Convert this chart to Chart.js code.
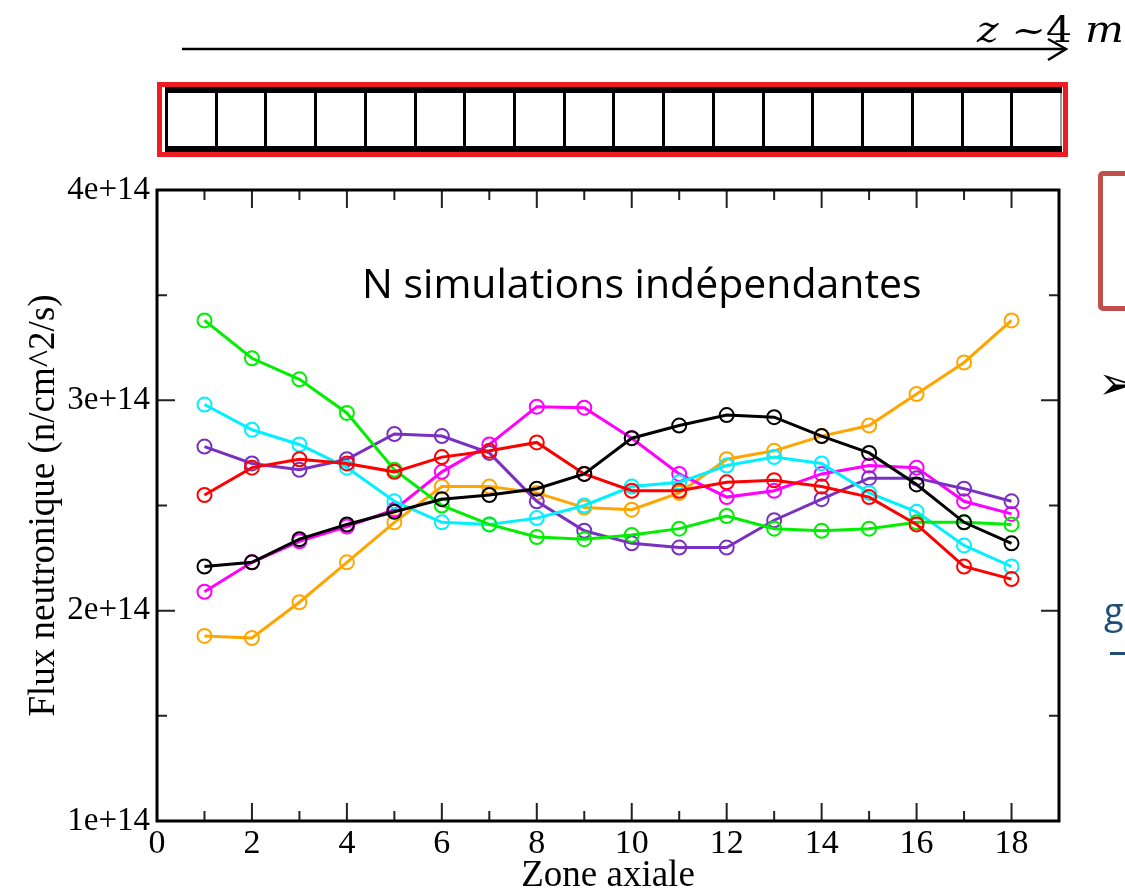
<!DOCTYPE html>
<html>
<head>
<meta charset="utf-8">
<script src="https://cdn.jsdelivr.net/npm/chart.js@4.4.1/dist/chart.umd.min.js"></script>
<style>
  body { margin: 0; width: 1125px; height: 890px; overflow: hidden; background: #fff; position: relative; }
  #c { position: absolute; left: 0; top: 0; }
  .abs { position: absolute; }
  #zlab { left: 977px; top: 10px; font: 35px 'DejaVu Serif'; white-space: nowrap; transform-origin: left top; transform: scaleX(1.17); }
  #zlab i { font-style: italic; }
  #bar { left: 157px; top: 82px; width: 901px; height: 65px; border: 5px solid #ec1c24; background: #fff; }
  #cells { position: absolute; left: 3px; top: 0; right: 1px; bottom: 0; display: flex;
           border-top: 6px solid #000; border-bottom: 6px solid #000; border-left: 3px solid #000; }
  #cells div { flex: 1; border-right: 3px solid #000; }
  #cells div:last-child { border-right: 2px solid #999; }
  #note { left: 362px; top: 254px; font: 41px 'Open Sans'; color: #000; white-space: nowrap; transform-origin: left top; }
  #sidebox { left: 1098px; top: 171px; width: 60px; height: 130px; border: 5px solid #c0504d; border-radius: 5px; }
  #bullet { left: 1098px; top: 356px; font: 46px 'DejaVu Sans'; color: #000; }
  #gtxt { left: 1104px; top: 586px; font: 36px 'Open Sans'; color: #1f4e79; }
  #dash { left: 1110px; top: 652px; width: 15px; height: 3px; background: #1f4e79; }
</style>
</head>
<body>
<canvas id="c" width="1125" height="900"></canvas>
<svg class="abs" style="left:0;top:0" width="1125" height="80">
  <line x1="182" y1="49" x2="1065" y2="49" stroke="#000" stroke-width="2.5"/>
  <polyline points="1048,39 1066,49 1048,60" fill="none" stroke="#000" stroke-width="2.5"/>
</svg>
<div id="zlab" class="abs"><i>z</i> ~4 <i>m</i></div>
<div id="bar" class="abs"><div id="cells"></div></div>
<div id="note" class="abs">N simulations indépendantes</div>
<div id="sidebox" class="abs"></div>
<div id="bullet" class="abs">➢</div>
<div id="gtxt" class="abs">g</div>
<div id="dash" class="abs"></div>
<script>
// zones axiales et flux (en unités de 1e14 n/cm^2/s)
const zones = [1, 2, 3, 4, 5, 6, 7, 8, 9, 10, 11, 12, 13, 14, 15, 16, 17, 18];
const simBlack   = [2.21, 2.23, 2.34, 2.41, 2.47, 2.53, 2.55, 2.58, 2.65, 2.82, 2.88, 2.93, 2.92, 2.83, 2.75, 2.60, 2.42, 2.32];
const simRed     = [2.55, 2.68, 2.72, 2.70, 2.66, 2.73, 2.76, 2.80, 2.65, 2.57, 2.57, 2.61, 2.62, 2.59, 2.54, 2.41, 2.21, 2.15];
const simGreen   = [3.38, 3.20, 3.10, 2.94, 2.67, 2.50, 2.41, 2.35, 2.34, 2.36, 2.39, 2.45, 2.39, 2.38, 2.39, 2.42, 2.42, 2.41];
const simCyan    = [2.98, 2.86, 2.79, 2.68, 2.52, 2.42, 2.41, 2.44, 2.50, 2.59, 2.61, 2.69, 2.73, 2.70, 2.56, 2.47, 2.31, 2.21];
const simPurple  = [2.78, 2.70, 2.67, 2.72, 2.84, 2.83, 2.75, 2.52, 2.38, 2.32, 2.30, 2.30, 2.43, 2.53, 2.63, 2.63, 2.58, 2.52];
const simMagenta = [2.09, 2.23, 2.33, 2.40, 2.48, 2.66, 2.79, 2.97, 2.965, 2.82, 2.65, 2.54, 2.57, 2.65, 2.69, 2.68, 2.52, 2.46];
const simOrange  = [1.88, 1.87, 2.04, 2.23, 2.42, 2.59, 2.59, 2.56, 2.49, 2.48, 2.56, 2.72, 2.76, 2.83, 2.88, 3.03, 3.18, 3.38];

const xMajor = [0, 2, 4, 6, 8, 10, 12, 14, 16, 18];
const xMinor = [1, 3, 5, 7, 9, 11, 13, 15, 17];
const yMajor = [1, 2, 3, 4];
const yMinor = [1.5, 2.5, 3.5];

// barre de cellules en haut (une par zone)
let cells = document.getElementById('cells');
zones.forEach(function () { cells.appendChild(document.createElement('div')); });

let series = [
    { data: simBlack, color: '#000000' },
    { data: simRed, color: '#ff0000' },
    { data: simGreen, color: '#00ee00' },
    { data: simCyan, color: '#00f0ff' },
    { data: simPurple, color: '#7a30c0' },
    { data: simMagenta, color: '#ff00ff' },
    { data: simOrange, color: '#ffa500' }
];

let frameTicks = {
    id: 'frameTicks',
    afterDatasetsDraw: function (chart) {
        let ctx = chart.ctx;
        let a = chart.chartArea;
        let x = chart.scales.x, y = chart.scales.y;
        ctx.save();
        ctx.strokeStyle = '#222';
        ctx.lineWidth = 2;
        ctx.beginPath();
        let xt = function (vals, len) {
            vals.forEach(function (v) {
                let px = x.getPixelForValue(v);
                ctx.moveTo(px, a.bottom); ctx.lineTo(px, a.bottom - len);
                ctx.moveTo(px, a.top); ctx.lineTo(px, a.top + len);
            });
        };
        let yt = function (vals, len) {
            vals.forEach(function (v) {
                let py = y.getPixelForValue(v);
                ctx.moveTo(a.left, py); ctx.lineTo(a.left + len, py);
                ctx.moveTo(a.right, py); ctx.lineTo(a.right - len, py);
            });
        };
        xt(xMajor, 18); xt(xMinor, 10);
        yt(yMajor, 18); yt(yMinor, 10);
        ctx.stroke();
        ctx.strokeStyle = '#000';
        ctx.lineWidth = 3;
        ctx.strokeRect(a.left, a.top, a.right - a.left, a.bottom - a.top);
        ctx.restore();
    }
};

Chart.defaults.font.family = 'Liberation Serif';
Chart.defaults.color = '#000';

new Chart(document.getElementById('c').getContext('2d'), {
    type: 'line',
    data: {
        datasets: series.map(function (s) {
            return {
                data: zones.map(function (z, i) { return { x: z, y: s.data[i] }; }),
                borderColor: s.color,
                borderWidth: 3,
                pointRadius: 7,
                pointBorderWidth: 2,
                pointBorderColor: s.color,
                pointBackgroundColor: 'rgba(0,0,0,0)',
                tension: 0,
                clip: false
            };
        })
    },
    options: {
        responsive: false,
        animation: false,
        events: [],
        layout: { padding: { top: 190, right: 66, left: 0, bottom: 0 } },
        plugins: { legend: { display: false }, tooltip: { enabled: false } },
        scales: {
            x: {
                type: 'linear', min: 0, max: 19,
                afterFit: function (s) { s.height = 79; },
                afterBuildTicks: function (s) { s.ticks = xMajor.map(function (v) { return { value: v }; }); },
                grid: { display: false, drawTicks: false },
                border: { display: false },
                ticks: { autoSkip: false, maxRotation: 0, padding: 3, font: { size: 34 } },
                title: { display: true, text: 'Zone axiale', font: { size: 37 }, padding: { top: 0, bottom: 2 } }
            },
            y: {
                type: 'linear', min: 1, max: 4,
                afterFit: function (s) { s.width = 157; },
                afterBuildTicks: function (s) { s.ticks = yMajor.map(function (v) { return { value: v }; }); },
                grid: { display: false, drawTicks: false },
                border: { display: false },
                ticks: { autoSkip: false, padding: 7, font: { size: 33 },
                         callback: function (v) { return v + 'e+14'; } },
                title: { display: true, text: 'Flux neutronique (n/cm^2/s)', font: { size: 37 }, padding: { top: 22, bottom: 0 } }
            }
        }
    },
    plugins: [frameTicks]
});
</script>
</body>
</html>
